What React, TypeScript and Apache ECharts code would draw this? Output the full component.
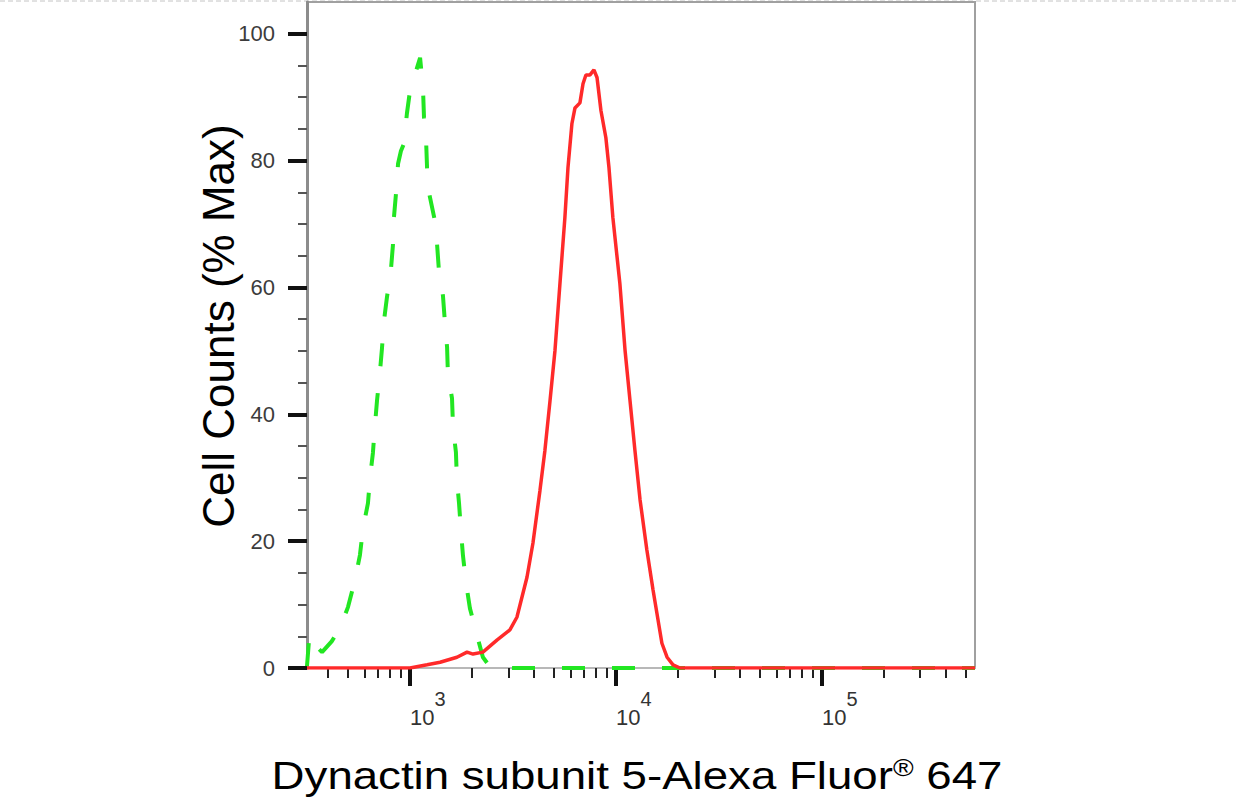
import { useEffect, useRef } from "react";
import * as echarts from "echarts";

const FONT = '"Liberation Sans", Arial, Helvetica, sans-serif';

// x values are log10 of the fluorescence intensity, y values are % of max
const greenLogX = [
    2.5, 2.512, 2.53, 2.573, 2.62, 2.66, 2.699, 2.733, 2.757, 2.772, 2.796, 2.806, 2.82, 2.83, 2.84,
    2.854, 2.864, 2.874, 2.888, 2.908, 2.917, 2.922, 2.932, 2.942, 2.956, 2.971, 2.985, 3.0, 3.049,
    3.063, 3.068, 3.078, 3.083, 3.092, 3.121, 3.131, 3.141, 3.16, 3.17, 3.18, 3.184, 3.204, 3.209,
    3.223, 3.228, 3.238, 3.248, 3.257, 3.272, 3.291, 3.325, 3.354, 3.388, 3.5, 4.0, 5.0, 5.743,
];
const greenPct = [
    0.3, 5.3, 3.9, 2.5, 4.2, 6.3, 9.6, 13.9, 17.8, 22, 26, 30, 33.9, 38.3, 42.2,
    46.6, 50.4, 54.8, 58.4, 63, 66.6, 71, 74.8, 79.5, 81.5, 82.7, 87.4, 91, 96.2,
    91.5, 86.8, 83.3, 78.7, 75, 70.5, 67, 62.4, 58.7, 54.3, 50.6, 46.5, 42.5, 38,
    34, 29.6, 26, 21.4, 17.8, 13.4, 9.4, 5.2, 1.7, 0.2, 0, 0, 0, 0,
];

const redLogX = [
    2.5, 3.0, 3.083, 3.146, 3.228, 3.277, 3.306, 3.354, 3.422, 3.485, 3.519, 3.568, 3.597, 3.631,
    3.655, 3.68, 3.704, 3.728, 3.752, 3.767, 3.786, 3.801, 3.825, 3.84, 3.854, 3.874, 3.893, 3.908,
    3.927, 3.951, 3.966, 3.985, 4.019, 4.044, 4.068, 4.092, 4.117, 4.15, 4.18, 4.223, 4.248, 4.277,
    4.311, 5.743,
];
const redPct = [
    0, 0, 0.5, 0.9, 1.7, 2.5, 2.2, 2.5, 4.4, 6.0, 8.0, 14.3, 19.7, 28.0,
    34.3, 42.2, 50.1, 60.6, 71.0, 78.9, 85.8, 88.3, 89.1, 92.1, 93.5, 93.5, 94.3, 93.1,
    87.9, 83.6, 78.9, 71.0, 60.6, 50.1, 42.2, 34.3, 26.5, 18.6, 12.3, 3.9, 1.7, 0.5,
    0, 0,
];

const xMin = 2.5;
const xMax = 5.743;
const xMajorExp = [3, 4, 5];
const xMinorValues = [
    400, 500, 600, 700, 800, 900,
    2000, 3000, 4000, 5000, 6000, 7000, 8000, 9000,
    20000, 30000, 40000, 50000, 60000, 70000, 80000, 90000,
    200000, 300000, 400000, 500000,
];
const yMajor = [0, 20, 40, 60, 80, 100];
const yMinor = [5, 10, 15, 25, 30, 35, 45, 50, 55, 65, 70, 75, 85, 90, 95];

const xTitle = "Dynactin subunit 5-Alexa Fluor";
const yTitle = "Cell Counts (% Max)";

function App() {
    const ref = useRef<HTMLDivElement>(null);

    useEffect(() => {
        if (!ref.current) return;
        const chart = echarts.init(ref.current, undefined, { renderer: "svg" });

        const minorLog = xMinorValues.map((v) => Math.log10(v));

        chart.setOption({
            animation: false,
            backgroundColor: "#ffffff",
            grid: {
                left: 307,
                right: 261,
                top: 2,
                bottom: 140,
                show: true,
                borderColor: "#a0a0a0",
                borderWidth: 2,
            },
            xAxis: [
                {
                    type: "value",
                    min: xMin,
                    max: xMax,
                    position: "bottom",
                    splitLine: { show: false },
                    axisLine: { show: true, lineStyle: { color: "#b8b8b8", width: 2 } },
                    axisTick: {
                        show: true,
                        customValues: xMajorExp,
                        length: 18,
                        lineStyle: { color: "#111111", width: 4 },
                    },
                    axisLabel: {
                        show: true,
                        customValues: xMajorExp,
                        align: "left",
                        margin: 21,
                        formatter: (v: number) => `{b|10}{s|${Math.round(v)}}`,
                        rich: {
                            b: {
                                fontFamily: FONT,
                                fontSize: 22,
                                color: "#333333",
                                lineHeight: 56,
                                verticalAlign: "middle",
                            },
                            s: {
                                fontFamily: FONT,
                                fontSize: 20,
                                color: "#333333",
                                lineHeight: 19,
                                verticalAlign: "top",
                            },
                        },
                    },
                },
                {
                    type: "value",
                    min: xMin,
                    max: xMax,
                    position: "bottom",
                    splitLine: { show: false },
                    axisLine: { show: false },
                    axisLabel: { show: false },
                    axisTick: {
                        show: true,
                        customValues: minorLog,
                        length: 10,
                        lineStyle: { color: "#222222", width: 2 },
                    },
                },
            ],
            yAxis: [
                {
                    type: "value",
                    min: 0,
                    max: 105,
                    position: "left",
                    splitLine: { show: false },
                    axisLine: { show: true, lineStyle: { color: "#8c8c8c", width: 3 } },
                    axisTick: {
                        show: true,
                        customValues: yMajor,
                        length: 19,
                        lineStyle: { color: "#111111", width: 4 },
                    },
                    axisLabel: {
                        show: true,
                        customValues: yMajor,
                        margin: 32,
                        fontFamily: FONT,
                        fontSize: 22,
                        color: "#3c3c3c",
                    },
                },
                {
                    type: "value",
                    min: 0,
                    max: 105,
                    position: "left",
                    splitLine: { show: false },
                    axisLine: { show: false },
                    axisLabel: { show: false },
                    axisTick: {
                        show: true,
                        customValues: yMinor,
                        length: 9,
                        lineStyle: { color: "#555555", width: 2 },
                    },
                },
            ],
            series: [
                {
                    name: "control",
                    type: "line",
                    data: greenLogX.map((x, i) => [x, greenPct[i]]),
                    symbol: "none",
                    lineStyle: { color: "#22e622", width: 4, type: [23, 27] },
                    z: 2,
                },
                {
                    name: "Dynactin subunit 5",
                    type: "line",
                    data: redLogX.map((x, i) => [x, redPct[i]]),
                    symbol: "none",
                    lineStyle: { color: "#ff2a2a", width: 3.5 },
                    z: 3,
                },
            ],
            graphic: [
                {
                    type: "line",
                    z: -1,
                    shape: { x1: 0, y1: 1, x2: 1236, y2: 1 },
                    style: { stroke: "#c4c4c4", lineWidth: 1, lineDash: [5, 3] },
                },
                {
                    type: "text",
                    x: 218,
                    y: 326,
                    rotation: Math.PI / 2,
                    style: {
                        text: yTitle,
                        fontFamily: FONT,
                        fontSize: 44,
                        fill: "#000000",
                        textAlign: "center",
                        textVerticalAlign: "middle",
                    },
                },
                {
                    type: "text",
                    x: 637,
                    y: 776,
                    scaleX: 1.17,
                    style: {
                        text: `{a|${xTitle}}{r|®}{a| 647}`,
                        textAlign: "center",
                        textVerticalAlign: "middle",
                        rich: {
                            a: {
                                fontFamily: FONT,
                                fontSize: 39,
                                fill: "#000000",
                                lineHeight: 40,
                                verticalAlign: "middle",
                            },
                            r: {
                                fontFamily: FONT,
                                fontSize: 24,
                                fill: "#000000",
                                lineHeight: 18,
                                verticalAlign: "top",
                            },
                        },
                    },
                },
            ],
        });

        return () => {
            chart.dispose();
        };
    }, []);

    return (
        <div
            ref={ref}
            style={{ position: "absolute", left: 0, top: 0, width: "1236px", height: "808px" }}
        />
    );
}

export default App;
